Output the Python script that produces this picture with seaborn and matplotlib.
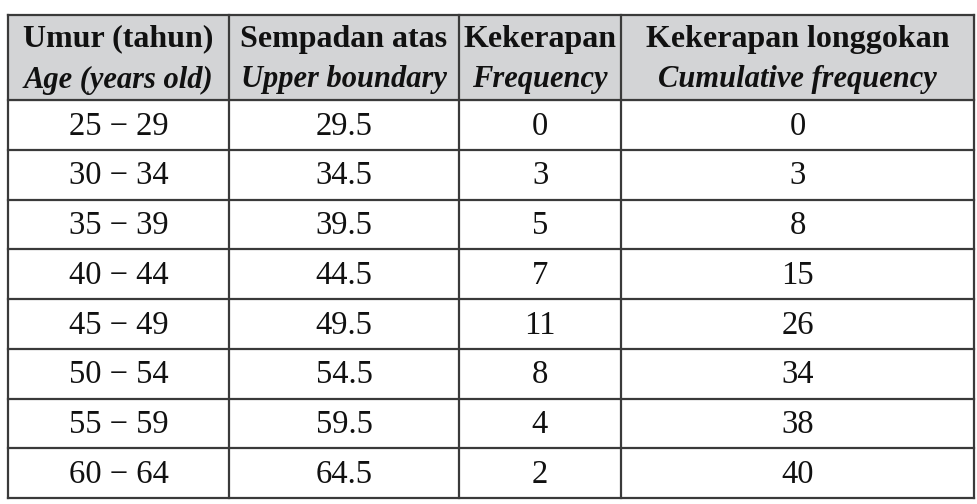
import matplotlib
matplotlib.use("Agg")
import matplotlib.pyplot as plt
import seaborn as sns

# table content
header_top = ["Umur (tahun)", "Sempadan atas", "Kekerapan", "Kekerapan longgokan"]
header_bottom = ["Age (years old)", "Upper boundary", "Frequency", "Cumulative frequency"]
age_groups = ["25 \u2212 29", "30 \u2212 34", "35 \u2212 39", "40 \u2212 44",
              "45 \u2212 49", "50 \u2212 54", "55 \u2212 59", "60 \u2212 64"]
upper_boundary = [29.5, 34.5, 39.5, 44.5, 49.5, 54.5, 59.5, 64.5]
frequency = [0, 3, 5, 7, 11, 8, 4, 2]
cumulative = [0, 3, 8, 15, 26, 34, 38, 40]

sns.set_theme(style="white")
plt.rcParams['font.family'] = ['Liberation Serif', 'DejaVu Serif']

W, H = 977, 504
fig = plt.figure(figsize=(W / 100, H / 100), dpi=100)
ax = fig.add_axes([0, 0, 1, 1])
ax.set_xlim(0, W)
ax.set_ylim(H, 0)
ax.axis("off")

# layout (pixels)
col_edges = [8, 229, 459, 621, 974]
top, head_bottom, bottom = 15, 100, 498
n_rows = len(age_groups)
row_h = (bottom - head_bottom) / n_rows
line_col = "#3a3a3a"

ax.add_patch(plt.Rectangle((col_edges[0], top), col_edges[-1] - col_edges[0],
                           head_bottom - top, color="#d3d4d6", zorder=0))

for x in col_edges:
    ax.plot([x, x], [top, bottom], color=line_col, lw=1.6, solid_capstyle="projecting")
for k in range(n_rows + 1):
    y = head_bottom + k * row_h
    ax.plot([col_edges[0], col_edges[-1]], [y, y], color=line_col, lw=1.6,
            solid_capstyle="projecting")
ax.plot([col_edges[0], col_edges[-1]], [top, top], color=line_col, lw=1.6,
        solid_capstyle="projecting")

centers = [(col_edges[i] + col_edges[i + 1]) / 2 for i in range(4)]
for c, t1, t2 in zip(centers, header_top, header_bottom):
    ax.text(c, 39, t1, ha="center", va="center", fontsize=23,
            fontweight="bold", color="#111111")
    ax.text(c, 80, t2, ha="center", va="center", fontsize=22,
            fontweight="bold", fontstyle="italic", color="#111111")

for i in range(n_rows):
    y = head_bottom + (i + 0.5) * row_h + 1.5
    row = [age_groups[i], f"{upper_boundary[i]:.1f}", str(frequency[i]), str(cumulative[i])]
    for c, t in zip(centers, row):
        ax.text(c, y, t, ha="center", va="center", fontsize=23.5, color="#111111")

fig.savefig("out.png", dpi=100)
